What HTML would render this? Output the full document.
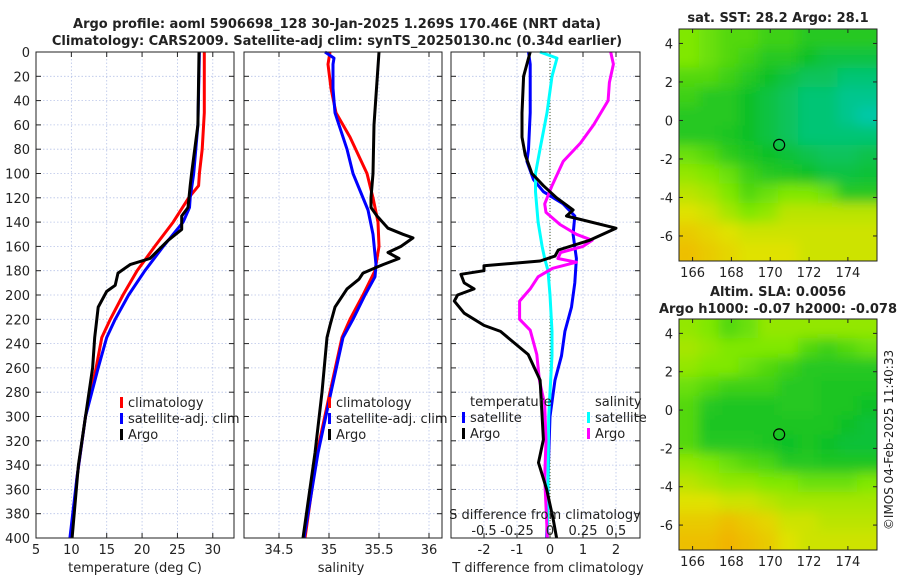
<!DOCTYPE html>
<html><head><meta charset="utf-8"><style>
body{margin:0;background:#fff;font-family:"Liberation Sans","DejaVu Sans",sans-serif;}
svg text{font-family:"DejaVu Sans","Liberation Sans",sans-serif;fill:#222;}
</style></head><body>
<svg id="fig" width="900" height="580" viewBox="0 0 900 580" xmlns="http://www.w3.org/2000/svg">
<defs>
<filter id="blur" x="-5%" y="-5%" width="110%" height="110%"><feGaussianBlur stdDeviation="6"/></filter>
<clipPath id="clipSST"><rect x="679" y="29" width="198" height="232"/></clipPath>
<clipPath id="clipSLA"><rect x="679" y="319" width="198" height="231"/></clipPath>
</defs>
<text x="337" y="28" text-anchor="middle" font-size="13" font-weight="bold">Argo profile: aoml 5906698_128 30-Jan-2025 1.269S 170.46E (NRT data)</text>
<text x="337" y="45" text-anchor="middle" font-size="13" font-weight="bold">Climatology: CARS2009. Satellite-adj clim: synTS_20250130.nc (0.34d earlier)</text>
<text x="778" y="22" text-anchor="middle" font-size="13" font-weight="bold">sat. SST: 28.2 Argo: 28.1</text>
<text x="778" y="296" text-anchor="middle" font-size="13" font-weight="bold">Altim. SLA: 0.0056</text>
<text x="778" y="313" text-anchor="middle" font-size="13" font-weight="bold">Argo h1000: -0.07 h2000: -0.078</text>
<text x="0" y="0" transform="translate(893,440) rotate(-90)" text-anchor="middle" font-size="12">©IMOS 04-Feb-2025 11:40:33</text>
<g id="plots"></g>
</svg>
<script>
const tArgoDepth=[0,60,100,110,128,135,146,155,170,175,182,192,197,210,225,235,260,300,340,400];
const tArgoVal=[28.05,27.9,27.0,26.8,26.5,25.6,25.6,23.7,21.1,18.3,16.6,16.2,15.0,13.8,13.5,13.3,13.0,12.0,11.0,10.1];
const tClimDepth=[0,50,80,100,110,120,140,160,180,200,220,235,260,300,350,400];
const tClimVal=[28.8,28.8,28.5,28.1,28.0,26.6,24.4,21.8,19.3,17.3,15.5,14.3,13.5,12.0,10.8,10.0];
const tSatDepth=[0,60,100,120,128,140,160,180,200,220,235,260,300,350,400];
const tSatVal=[28.1,27.9,27.3,26.8,26.7,25.8,23.0,20.4,18.1,16.2,15.0,13.8,12.0,10.8,9.8];

const sArgoDepth=[0,60,100,120,128,135,145,150,153,160,165,170,175,182,187,195,210,225,235,280,330,400];
const sArgoVal=[35.50,35.45,35.44,35.42,35.42,35.48,35.59,35.74,35.84,35.72,35.59,35.70,35.54,35.34,35.30,35.18,35.06,35.01,34.98,34.93,34.86,34.74];
const sClimDepth=[0,10,30,50,70,100,120,140,160,180,200,220,235,280,330,400];
const sClimVal=[35.01,34.99,35.02,35.07,35.21,35.38,35.44,35.49,35.50,35.46,35.34,35.21,35.13,35.01,34.88,34.76];
const sSatDepth=[0,5,10,30,50,80,100,130,150,175,185,200,220,235,280,330,400];
const sSatVal=[34.96,35.05,35.04,35.04,35.06,35.18,35.24,35.39,35.44,35.47,35.46,35.36,35.24,35.14,35.02,34.89,34.75];

const dtArgoDepth=[0,20,50,70,85,100,110,120,130,135,145,155,163,168,172,176,180,183,190,195,200,205,215,225,230,249,270,295,319,338,360,385,400];
const dtArgoVal=[-0.6,-0.8,-0.85,-0.85,-0.75,-0.55,-0.2,0.2,0.7,0.5,2.0,1.2,0.25,0.15,-0.3,-2.0,-2.0,-2.7,-2.6,-2.3,-2.8,-2.9,-2.6,-2.0,-1.5,-0.66,-0.3,-0.25,-0.2,-0.35,-0.1,0.1,0.2];
const dtSatDepth=[0,10,50,80,90,105,115,125,135,150,170,190,210,230,250,270,300,340,400];
const dtSatVal=[-0.65,-0.6,-0.6,-0.65,-0.7,-0.5,-0.2,0.4,0.75,0.7,0.8,0.75,0.65,0.45,0.35,0.15,0.0,-0.05,-0.1];
const dsSatDepth=[0,5,20,50,80,100,115,140,160,170,180,200,230,250,300,400];
const dsSatVal=[-0.076,0.053,0.015,-0.023,-0.076,-0.11,-0.11,-0.09,-0.06,-0.04,-0.015,0,0.015,0.015,-0.01,-0.02];
const dsArgoDepth=[0,10,25,40,60,75,90,110,125,132,142,150,155,160,165,170,173,178,185,195,205,220,229,249,270,290,320,350,400];
const dsArgoVal=[0.46,0.48,0.45,0.44,0.33,0.23,0.1,0.015,-0.04,-0.03,0.076,0.2,0.32,0.25,0.08,0.06,0.2,0.02,-0.09,-0.15,-0.23,-0.23,-0.15,-0.1,-0.08,-0.04,-0.03,-0.04,-0.02];

const depthTicks=[0,20,40,60,80,100,120,140,160,180,200,220,240,260,280,300,320,340,360,380,400];
const tTicks=[5,10,15,20,25,30];
const sTicks=[34.5,35,35.5,36];
const sTickLabels=['34.5','35','35.5','36'];
const dtTicks=[-2,-1,0,1,2];
const dsTicks=[-0.5,-0.25,0,0.25,0.5];
const dsTickLabels=['-0.5','-0.25','0','0.25','0.5'];

const lonTicks=[166,168,170,172,174];
const latTicks=[4,2,0,-2,-4,-6];
const floatLon=170.46, floatLat=-1.269;
const sstGrid=[
[0.5,0.55,0.6,0.6,0.65,0.65,0.7,0.7,0.7,0.7],
[0.5,0.55,0.6,0.65,0.7,0.7,0.75,0.8,0.8,0.8],
[0.6,0.6,0.65,0.7,0.75,0.8,0.85,0.85,0.9,0.9],
[0.65,0.7,0.7,0.75,0.8,0.85,0.9,0.9,0.95,0.95],
[0.7,0.7,0.7,0.75,0.8,0.85,0.9,0.9,0.95,1],
[0.7,0.7,0.72,0.75,0.8,0.85,0.9,0.9,0.9,0.9],
[0.55,0.6,0.68,0.72,0.75,0.78,0.82,0.85,0.85,0.82],
[0.45,0.5,0.55,0.65,0.7,0.72,0.75,0.8,0.8,0.78],
[0.35,0.4,0.5,0.6,0.55,0.5,0.5,0.55,0.7,0.7],
[0.25,0.3,0.4,0.5,0.45,0.35,0.35,0.35,0.35,0.35],
[0.15,0.2,0.25,0.3,0.3,0.3,0.3,0.3,0.3,0.3],
[0.1,0.15,0.2,0.25,0.25,0.25,0.3,0.3,0.3,0.3]];
const slaGrid=[
[0.45,0.5,0.6,0.55,0.45,0.45,0.45,0.45,0.45,0.45],
[0.4,0.45,0.5,0.5,0.5,0.5,0.6,0.65,0.6,0.55],
[0.45,0.5,0.5,0.55,0.6,0.65,0.7,0.7,0.7,0.7],
[0.55,0.6,0.65,0.65,0.65,0.7,0.7,0.72,0.72,0.72],
[0.6,0.7,0.72,0.72,0.72,0.7,0.7,0.72,0.72,0.75],
[0.6,0.72,0.72,0.72,0.72,0.72,0.72,0.72,0.75,0.78],
[0.6,0.7,0.7,0.7,0.72,0.75,0.72,0.75,0.78,0.78],
[0.45,0.5,0.55,0.6,0.62,0.7,0.7,0.72,0.72,0.72],
[0.35,0.4,0.45,0.45,0.5,0.5,0.55,0.55,0.55,0.5],
[0.25,0.25,0.3,0.3,0.35,0.4,0.4,0.4,0.4,0.4],
[0.15,0.15,0.1,0.15,0.2,0.3,0.3,0.35,0.35,0.35],
[0.1,0.1,0.05,0.1,0.15,0.25,0.3,0.3,0.3,0.3]];

const NS='http://www.w3.org/2000/svg';
const root=document.getElementById('plots');
function mk(tag,attrs,parent){const e=document.createElementNS(NS,tag);for(const k in attrs)e.setAttribute(k,attrs[k]);(parent||root).appendChild(e);return e;}
const Y0=52,Y1=538;
const yD=d=>Y0+(d/400)*(Y1-Y0);
function lin(d0,d1,r0,r1){return v=>r0+(v-d0)/(d1-d0)*(r1-r0);}

function panel(name,x0,x1,xs,ticks,labels,showY){
  const g=mk('g',{});
  
  
  ticks.forEach(t=>{const x=xs(t);mk('line',{x1:x,x2:x,y1:Y0,y2:Y1,stroke:'#b8c4e8','stroke-width':0.8,'stroke-dasharray':'1.5,2'},g);});
  depthTicks.forEach(d=>{const y=yD(d);mk('line',{x1:x0,x2:x1,y1:y,y2:y,stroke:'#b8c4e8','stroke-width':0.8,'stroke-dasharray':'1.5,2'},g);
    mk('line',{x1:x0,x2:x0+5,y1:y,y2:y,stroke:'#222'},g);mk('line',{x1:x1-5,x2:x1,y1:y,y2:y,stroke:'#222'},g);
    if(showY){const t=mk('text',{x:x0-6,y:y+5,'text-anchor':'end','font-size':13},g);t.textContent=d;}});
  ticks.forEach((t,i)=>{const x=xs(t);mk('line',{x1:x,x2:x,y1:Y1,y2:Y1-5,stroke:'#222'},g);mk('line',{x1:x,x2:x,y1:Y0,y2:Y0+5,stroke:'#222'},g);
    if(labels){const tx=mk('text',{x:x,y:554,'text-anchor':'middle','font-size':13},g);tx.textContent=labels[i];}});
  return g;
}
function line(g,name,depths,vals,xs,color){
  const p=mk('polyline',{points:depths.map((d,i)=>xs(vals[i]).toFixed(1)+','+yD(d).toFixed(1)).join(' '),fill:'none',stroke:color,'stroke-width':3,'stroke-linejoin':'round'},g);
  
  
}
function frame(g,x0,x1){mk('rect',{x:x0,y:Y0,width:x1-x0,height:Y1-Y0,fill:'none',stroke:'#222','stroke-width':1},g);}
function legendItem(g,name,x,y,color,label){
  const it=mk('g',{},g);
  
  
  if(color)mk('rect',{x:x,y:y-10,width:3,height:11,fill:color},it);
  const t=mk('text',{x:x+(color?8:0),y:y,'font-size':13},it);t.textContent=label;
}
function axTitle(text,x,name){const t=mk('text',{x:x,y:572,'text-anchor':'middle','font-size':13});t.textContent=text;
  
  }

const xT=lin(5,33,36,234);
const g1=panel('temperature-panel',36,234,xT,tTicks,tTicks.map(String),true);
line(g1,'temp-climatology-line',tClimDepth,tClimVal,xT,'#ff0000');
line(g1,'temp-satellite-line',tSatDepth,tSatVal,xT,'#0000ff');
line(g1,'temp-argo-line',tArgoDepth,tArgoVal,xT,'#000000');
frame(g1,36,234);
legendItem(g1,'legend-climatology',120,407,'#ff0000','climatology');
legendItem(g1,'legend-satellite-adj',120,423,'#0000ff','satellite-adj. clim');
legendItem(g1,'legend-argo',120,439,'#000000','Argo');
axTitle('temperature (deg C)',135,'x-axis-title-temperature');

const xS=lin(34.5,36,279,429);
const g2=panel('salinity-panel',244,442,xS,sTicks,sTickLabels,false);
line(g2,'sal-climatology-line',sClimDepth,sClimVal,xS,'#ff0000');
line(g2,'sal-satellite-line',sSatDepth,sSatVal,xS,'#0000ff');
line(g2,'sal-argo-line',sArgoDepth,sArgoVal,xS,'#000000');
frame(g2,244,442);
legendItem(g2,'legend-sal-climatology',328,407,'#ff0000','climatology');
legendItem(g2,'legend-sal-satellite-adj',328,423,'#0000ff','satellite-adj. clim');
legendItem(g2,'legend-sal-argo',328,439,'#000000','Argo');
axTitle('salinity',341,'x-axis-title-salinity');

const xDT=lin(-1,1,517,583);
const xDS=lin(-0.25,0.25,517,583);
const g3=panel('difference-panel',451,640,xDT,dtTicks,dtTicks.map(String),false);
mk('line',{x1:xDT(0),x2:xDT(0),y1:Y0,y2:Y1,stroke:'#445522','stroke-width':1,'stroke-dasharray':'1,2'},g3);
line(g3,'dt-satellite-line',dtSatDepth,dtSatVal,xDT,'#0000ff');
line(g3,'ds-satellite-line',dsSatDepth,dsSatVal,xDS,'#00ffff');
line(g3,'ds-argo-line',dsArgoDepth,dsArgoVal,xDS,'#ff00ff');
line(g3,'dt-argo-line',dtArgoDepth,dtArgoVal,xDT,'#000000');
frame(g3,451,640);
legendItem(g3,'legend-temperature-header',470,406,null,'temperature');
legendItem(g3,'legend-dt-satellite',462,422,'#0000ff','satellite');
legendItem(g3,'legend-dt-argo',462,438,'#000000','Argo');
legendItem(g3,'legend-salinity-header',595,406,null,'salinity');
legendItem(g3,'legend-ds-satellite',587,422,'#00ffff','satellite');
legendItem(g3,'legend-ds-argo',587,438,'#ff00ff','Argo');
const st=mk('text',{x:545,y:519,'text-anchor':'middle','font-size':13},g3);st.textContent='S difference from climatology';
dsTicks.forEach((v,i)=>{const t=mk('text',{x:xDS(v),y:535,'text-anchor':'middle','font-size':13},g3);t.textContent=dsTickLabels[i];});
axTitle('T difference from climatology',548,'x-axis-title-t-difference');

const stops=[[0,[245,168,0]],[0.25,[224,226,0]],[0.5,[128,232,0]],[0.75,[16,192,40]],[1,[0,200,168]]];
function cmap(v){for(let i=1;i<stops.length;i++){if(v<=stops[i][0]){const a=stops[i-1],b=stops[i],f=(v-a[0])/(b[0]-a[0]);return 'rgb('+a[1].map((c,k)=>Math.round(c+(b[1][k]-c)*f)).join(',')+')';}}return 'rgb(0,200,168)';}
function map(name,grid,y0,y1,clip){
  const x0=679,x1=877;
  const xL=lin(165.3,175.5,x0,x1), yL=lin(4.75,-7.3,y0,y1);
  const g=mk('g',{});
  
  
  const cg=mk('g',{'clip-path':'url(#'+clip+')'},g);
  const fg=mk('g',{filter:'url(#blur)'},cg);
  const rows=grid.length,cols=grid[0].length,cw=(x1-x0)/cols,ch=(y1-y0)/rows;
  grid.forEach((row,r)=>row.forEach((v,c)=>{
    const cx=x0+c*cw-(c===0?12:0), cy=y0+r*ch-(r===0?12:0);
    const w=cw+0.6+(c===0?12:0)+(c===cols-1?12:0), h=ch+0.6+(r===0?12:0)+(r===rows-1?12:0);
    const cell=mk('rect',{x:cx,y:cy,width:w,height:h,fill:cmap(v)},fg);
    
    }));
  mk('rect',{x:x0,y:y0,width:x1-x0,height:y1-y0,fill:'none',stroke:'#222'},g);
  lonTicks.forEach(l=>{const x=xL(l);mk('line',{x1:x,x2:x,y1:y1,y2:y1-4,stroke:'#222'},g);mk('line',{x1:x,x2:x,y1:y0,y2:y0+4,stroke:'#222'},g);
    const t=mk('text',{x:x,y:y1+16,'text-anchor':'middle','font-size':13},g);t.textContent=l;});
  latTicks.forEach(l=>{const y=yL(l);mk('line',{x1:x0,x2:x0+4,y1:y,y2:y,stroke:'#222'},g);mk('line',{x1:x1,x2:x1-4,y1:y,y2:y,stroke:'#222'},g);
    const t=mk('text',{x:x0-6,y:y+5,'text-anchor':'end','font-size':13},g);t.textContent=l;});
  const m=mk('circle',{cx:xL(floatLon),cy:yL(floatLat),r:5.5,fill:'none',stroke:'#000','stroke-width':1.2},g);
  
  
}
map('sst-map',sstGrid,29,261,'clipSST');
map('sla-map',slaGrid,319,550,'clipSLA');
</script>
</body></html>
